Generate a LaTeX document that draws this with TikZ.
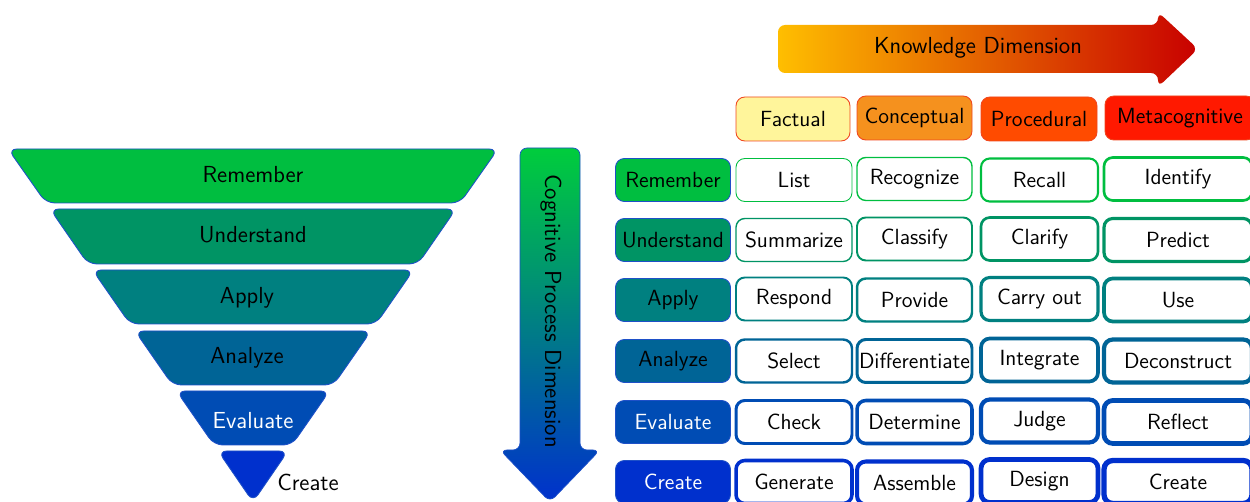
\documentclass[tikz,border=0pt]{standalone}
\usepackage{tikz}
\usetikzlibrary{positioning}

\definecolor{rowRem}{RGB}{0,190,64}
\definecolor{rowUnd}{RGB}{0,148,100}
\definecolor{rowApp}{RGB}{0,128,128}
\definecolor{rowAna}{RGB}{0,100,150}
\definecolor{rowEva}{RGB}{0,76,180}
\definecolor{rowCre}{RGB}{0,48,205}
\definecolor{knFac}{RGB}{255,245,155}
\definecolor{knCon}{RGB}{245,145,30}
\definecolor{knPro}{RGB}{255,75,0}
\definecolor{knMet}{RGB}{255,25,0}
\definecolor{edgeRed}{RGB}{240,70,30}
\definecolor{edgeBlue}{RGB}{30,80,200}
\definecolor{cogTop}{RGB}{0,205,60}

\tikzset{Layer/.style={%
    draw=edgeBlue,%
    line width=0.5pt,%
    rounded corners=5pt,%
}}
\tikzset{BigText/.style={%
    font=\sffamily\fontsize{13.2}{15}\selectfont,%
    inner sep=0pt,%
}}
\tikzset{RowLabel/.style={%
    draw=edgeBlue,%
    line width=0.5pt,%
    rounded corners=5pt,%
    minimum width=2.3cm,%
    minimum height=0.86cm,%
    inner sep=1pt,%
    font=\sffamily\fontsize{12.5}{15}\selectfont,%
}}
\tikzset{Head/.style={%
    draw=edgeRed,%
    line width=0.5pt,%
    rounded corners=5pt,%
    minimum height=0.88cm,%
    inner sep=1pt,%
    font=\sffamily\fontsize{12.5}{15}\selectfont,%
}}
\tikzset{Cell/.style={%
    draw,%
    fill=white,%
    line width=#1,%
    rounded corners=5pt,%
    minimum height=0.86cm,%
    inner sep=1pt,%
    font=\sffamily\fontsize{12.5}{15}\selectfont,%
}}

\begin{document}
\begin{tikzpicture}[x=0.02cm, y=-0.02cm]
    \useasboundingbox (0,0) rectangle (1250,502);

    % funnel
    \draw[Layer, fill=rowRem] (8,149) -- (498,149) -- (460,203) -- (46,203) -- cycle;
    \draw[Layer, fill=rowUnd] (50,209) -- (456,209) -- (418,264) -- (88,264) -- cycle;
    \draw[Layer, fill=rowApp] (92.5,270) -- (413.5,270) -- (376,324) -- (130,324) -- cycle;
    \draw[Layer, fill=rowAna] (135,331) -- (371,331) -- (333.5,385) -- (172.5,385) -- cycle;
    \draw[Layer, fill=rowEva] (176.5,391) -- (329.5,391) -- (292,445) -- (214,445) -- cycle;
    \draw[Layer, fill=rowCre] (218,451) -- (288,451) -- (253,502) -- cycle;
    \node[BigText] (fRem) at (253,175) {Remember};
    \node[BigText] (fUnd) at (253,235) {Understand};
    \node[BigText] (fApp) at (247,298) {Apply};
    \node[BigText] (fAna) at (247,358) {Analyze};
    \node[BigText, text=white] (fEva) at (253,421) {Evaluate};
    \node[BigText] (fCre) at (308,482) {Create};

    % arrows
    \path[draw=edgeBlue, line width=0.4pt, rounded corners=4pt,
        top color=cogTop, bottom color=rowCre]
        (520,148) -- (580,148) -- (580,450) -- (600,450) -- (550,502)
        -- (500,450) -- (520,450) -- cycle;
    \node[BigText, rotate=-90] (cogText) at (551,311) {Cognitive Process Dimension};
    \path[rounded corners=4pt, left color={rgb,255:red,255;green,190;blue,0},
        right color={rgb,255:red,200;green,0;blue,0}]
        (778,25) -- (1158,25) -- (1158,12) -- (1198,49) -- (1158,87)
        -- (1158,73) -- (778,73) -- cycle;
    \node[BigText] (knText) at (978,48) {Knowledge Dimension};

    % header
    \node[Head, fill=knFac, minimum width=2.28cm] (hFac) at (793,119) {Factual};
    \node[Head, fill=knCon, minimum width=2.3cm] (hCon) at (914.5,118) {Conceptual};
    \node[Head, fill=knPro, minimum width=2.32cm] (hPro) at (1039,119) {Procedural};
    \node[Head, fill=knMet, minimum width=3cm] (hMet) at (1180,118) {Metacognitive};

    % row labels
    \node[RowLabel, fill=rowRem] (rRem) at (673,180) {Remember};
    \node[RowLabel, fill=rowUnd] (rUnd) at (673,240) {Understand};
    \node[RowLabel, fill=rowApp] (rApp) at (673,300) {Apply};
    \node[RowLabel, fill=rowAna] (rAna) at (673,361) {Analyze};
    \node[RowLabel, fill=rowEva, text=white] (rEva) at (673,422) {Evaluate};
    \node[RowLabel, fill=rowCre, text=white] (rCre) at (673,482) {Create};

    % cells
    \node[Cell=0.5pt, draw=rowRem, minimum width=2.32cm] (cRemFac) at (794,180) {List};
    \node[Cell=0.8pt, draw=rowRem, minimum width=2.3cm] (cRemCon) at (914.5,179) {Recognize};
    \node[Cell=1.2pt, draw=rowRem, minimum width=2.34cm] (cRemPro) at (1039.5,180) {Recall};
    \node[Cell=1.5pt, draw=rowRem, minimum width=2.96cm] (cRemMet) at (1178,179) {Identify};

    \node[Cell=0.8pt, draw=rowUnd, minimum width=2.32cm] (cUndFac) at (794,240) {Summarize};
    \node[Cell=1.1pt, draw=rowUnd, minimum width=2.3cm] (cUndCon) at (914.5,239) {Classify};
    \node[Cell=1.5pt, draw=rowUnd, minimum width=2.34cm] (cUndPro) at (1039.5,239) {Clarify};
    \node[Cell=1.8pt, draw=rowUnd, minimum width=2.96cm] (cUndMet) at (1178,240) {Predict};

    \node[Cell=1.1pt, draw=rowApp, minimum width=2.32cm] (cAppFac) at (794,299) {Respond};
    \node[Cell=1.4pt, draw=rowApp, minimum width=2.3cm] (cAppCon) at (914.5,300) {Provide};
    \node[Cell=1.8pt, draw=rowApp, minimum width=2.34cm] (cAppPro) at (1039.5,299) {Carry out};
    \node[Cell=2.1pt, draw=rowApp, minimum width=2.96cm] (cAppMet) at (1178,300) {Use};

    \node[Cell=1.4pt, draw=rowAna, minimum width=2.32cm] (cAnaFac) at (794,361) {Select};
    \node[Cell=1.7pt, draw=rowAna, minimum width=2.3cm] (cAnaCon) at (914.5,361) {Differentiate};
    \node[Cell=2.1pt, draw=rowAna, minimum width=2.34cm] (cAnaPro) at (1039.5,360) {Integrate};
    \node[Cell=2.4pt, draw=rowAna, minimum width=2.96cm] (cAnaMet) at (1178,361) {Deconstruct};

    \node[Cell=1.7pt, draw=rowEva, minimum width=2.32cm] (cEvaFac) at (794,422) {Check};
    \node[Cell=2pt, draw=rowEva, minimum width=2.3cm] (cEvaCon) at (914.5,422) {Determine};
    \node[Cell=2.4pt, draw=rowEva, minimum width=2.34cm] (cEvaPro) at (1039.5,421) {Judge};
    \node[Cell=2.7pt, draw=rowEva, minimum width=2.96cm] (cEvaMet) at (1178,422) {Reflect};

    \node[Cell=2pt, draw=rowCre, minimum width=2.32cm] (cCreFac) at (794,482) {Generate};
    \node[Cell=2.3pt, draw=rowCre, minimum width=2.3cm] (cCreCon) at (914.5,483) {Assemble};
    \node[Cell=2.7pt, draw=rowCre, minimum width=2.34cm] (cCrePro) at (1039.5,481) {Design};
    \node[Cell=3pt, draw=rowCre, minimum width=2.96cm] (cCreMet) at (1178,482) {Create};
\end{tikzpicture}
\end{document}
